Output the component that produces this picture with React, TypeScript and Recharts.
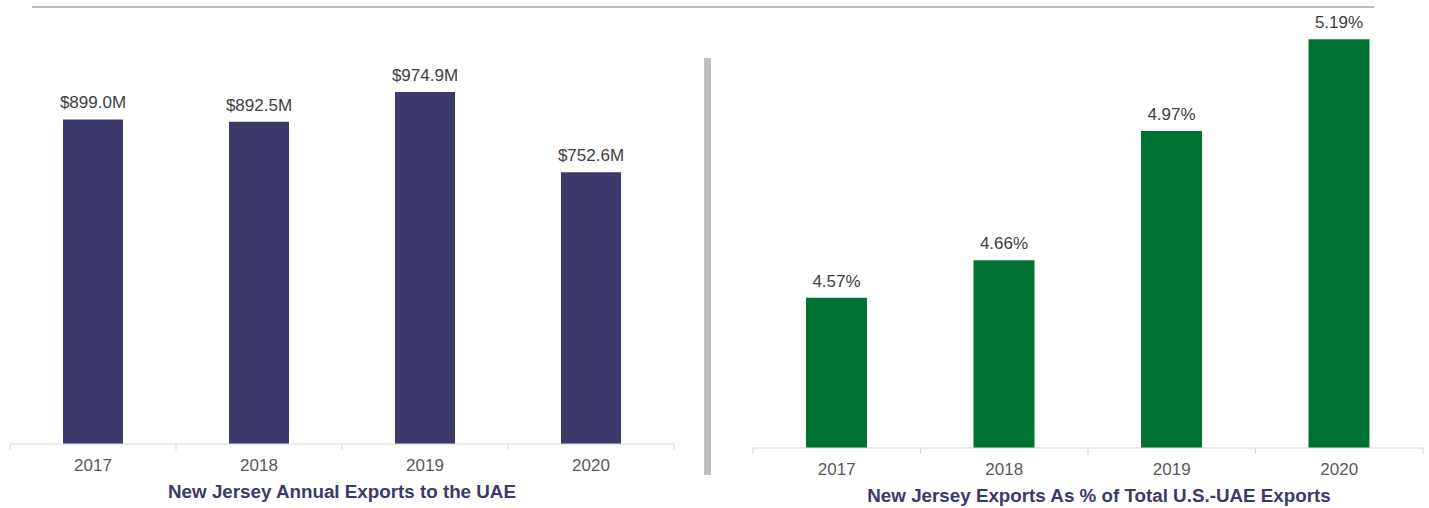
import { Bar, BarChart, LabelList, XAxis, YAxis } from "recharts";

const years = ["2017", "2018", "2019", "2020"];
const exportsM = [899.0, 892.5, 974.9, 752.6];
const sharePct = [4.57, 4.66, 4.97, 5.19];

const font = "'Liberation Sans', Arial, sans-serif";
const navy = "#3b3a6b";
const green = "#007332";

const exportsData = years.map((year, i) => ({ year, value: exportsM[i] }));
const shareData = years.map((year, i) => ({ year, value: sharePct[i] }));

// tick marks sit between categories, labels sit at the centre
const YearTick = (props: any) => {
  const { x, y, payload, index } = props;
  const half = payload.offset ?? 83;
  return (
    <g>
      <line x1={x - half} x2={x - half} y1={y} y2={y + 6} stroke="#d9d9d9" />
      {index === years.length - 1 && (
        <line x1={x + half} x2={x + half} y1={y} y2={y + 6} stroke="#d9d9d9" />
      )}
      <text x={x} y={y + 27} textAnchor="middle" fill="#595959" fontSize={17} fontFamily={font}>
        {payload.value}
      </text>
    </g>
  );
};

const title = (value: string, dx = 0) => ({
  value,
  position: "insideBottom" as const,
  offset: 6,
  dx,
  fill: navy,
  fontSize: 18.8,
  fontWeight: 700,
  fontFamily: font,
});

const App = () => {
  return (
    <div
      style={{
        position: "absolute",
        left: 0,
        top: 0,
        width: 1429,
        height: 508,
        background: "#fff",
        fontFamily: font,
      }}
    >
      <div style={{ position: "absolute", left: 32, top: 6, width: 1342, height: 2, background: "#bdbdbd" }} />
      <div style={{ position: "absolute", left: 704, top: 58, width: 7, height: 417, background: "#bfbfbf" }} />

      <div style={{ position: "absolute", left: 0, top: 0 }}>
        <BarChart width={700} height={508} data={exportsData} margin={{ top: 83, left: 10, right: 26, bottom: 4 }}>
          <XAxis
            dataKey="year"
            height={60}
            interval={0}
            axisLine={{ stroke: "#d9d9d9" }}
            tickLine={false}
            tickSize={0}
            tickMargin={0}
            tick={YearTick}
            label={title("New Jersey Annual Exports to the UAE")}
          />
          <YAxis hide domain={[0, 1000]} allowDataOverflow />
          <Bar dataKey="value" fill={navy} barSize={60} isAnimationActive={false}>
            <LabelList
              dataKey="value"
              position="top"
              offset={11}
              fill="#404040"
              fontSize={17}
              fontFamily={font}
              formatter={(v: any) => `$${Number(v).toFixed(1)}M`}
            />
          </Bar>
        </BarChart>
      </div>

      <div style={{ position: "absolute", left: 720, top: 0 }}>
        <BarChart width={709} height={508} data={shareData} margin={{ top: 35, left: 33, right: 6, bottom: 0 }}>
          <XAxis
            dataKey="year"
            height={60}
            interval={0}
            axisLine={{ stroke: "#d9d9d9" }}
            tickLine={false}
            tickSize={0}
            tickMargin={0}
            tick={YearTick}
            label={title("New Jersey Exports As % of Total U.S.-UAE Exports", 11)}
          />
          <YAxis hide domain={[4.21, 5.2]} allowDataOverflow />
          <Bar dataKey="value" fill={green} barSize={61} isAnimationActive={false}>
            <LabelList
              dataKey="value"
              position="top"
              offset={11}
              fill="#404040"
              fontSize={17}
              fontFamily={font}
              formatter={(v: any) => `${Number(v).toFixed(2)}%`}
            />
          </Bar>
        </BarChart>
      </div>
    </div>
  );
};

export default App;
